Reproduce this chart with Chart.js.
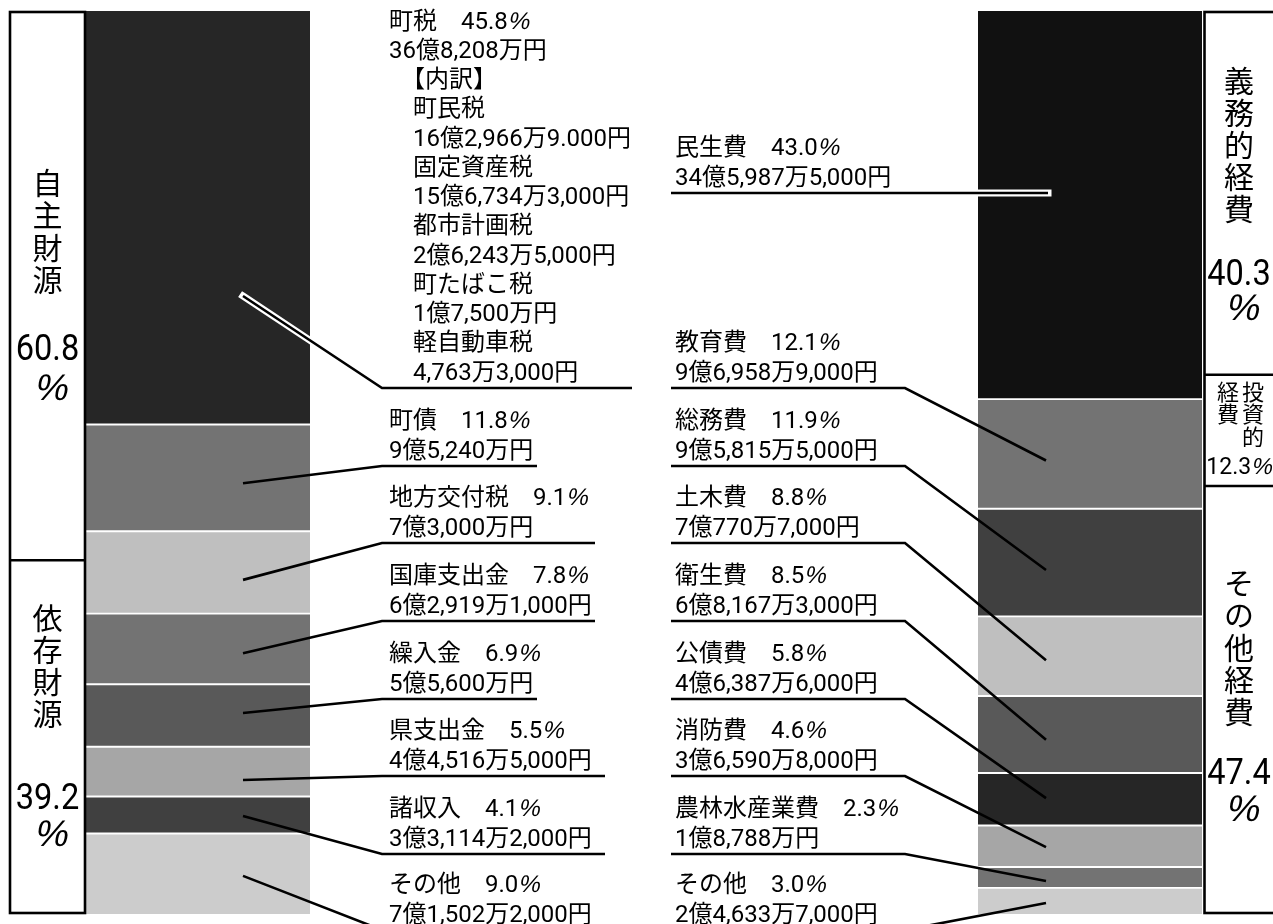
<!DOCTYPE html>
<html><head><meta charset="utf-8">
<script src="https://cdn.jsdelivr.net/npm/chart.js@4/dist/chart.umd.min.js"></script>
<style>html,body{margin:0;padding:0;background:#fff;overflow:hidden}#wrap{width:1273px;height:924px;position:relative}</style>
</head><body><div id="wrap"><canvas id="c"></canvas></div>
<script>
// ---------- data ----------
const barLabels = ['歳入', '歳出'];
const revenueCategories = ['町税','町債','地方交付税','国庫支出金','繰入金','県支出金','諸収入','その他'];
const revenueValues = [45.8, 11.8, 9.1, 7.8, 6.9, 5.5, 4.1, 9.0];
const revenueAmounts = ['36億8,208万円','9億5,240万円','7億3,000万円','6億2,919万1,000円','5億5,600万円','4億4,516万5,000円','3億3,114万2,000円','7億1,502万2,000円'];
const townTaxItems = ['町民税','固定資産税','都市計画税','町たばこ税','軽自動車税'];
const townTaxAmounts = ['16億2,966万9.000円','15億6,734万3,000円','2億6,243万5,000円','1億7,500万円','4,763万3,000円'];
const expenditureCategories = ['民生費','教育費','総務費','土木費','衛生費','公債費','消防費','農林水産業費','その他'];
const expenditureValues = [43.0, 12.1, 11.9, 8.8, 8.5, 5.8, 4.6, 2.3, 3.0];
const expenditureAmounts = ['34億5,987万5,000円','9億6,958万9,000円','9億5,815万5,000円','7億770万7,000円','6億8,167万3,000円','4億6,387万6,000円','3億6,590万8,000円','1億8,788万円','2億4,633万7,000円'];
const revenueGroups = ['自主財源','依存財源'];
const revenueGroupValues = [60.8, 39.2];
const expenditureGroups = ['義務的経費','投資的経費','その他経費'];
const expenditureGroupValues = [40.3, 12.3, 47.4];

// ---------- styles / layout ----------
const revenueColors = ['#262626','#737373','#bfbfbf','#737373','#595959','#a6a6a6','#404040','#cccccc'];
const expenditureColors = ['#111111','#737373','#404040','#bfbfbf','#595959','#262626','#a6a6a6','#737373','#cccccc'];
const revUnderY = [388,466,543,621,699,776,854,930];
const revUnderEnd = [632,537,595,595,537,605,605,595];
const revAnchorFrac = [0.69,0.55,0.59,0.56,0.46,0.67,0.53,0.52];
const expUnderY = [193,388,466,543,621,699,776,854,930];
const expAnchorFrac = [0.5,0.56,0.57,0.55,0.57,0.48,0.52,0.67,0.56];
const LEFT_TEXT_X = 389, RIGHT_TEXT_X = 675;
const FONT = '"Noto Sans CJK JP", sans-serif';
const NUMFONT = 'Roboto, "Noto Sans CJK JP", sans-serif';
const PCTFONT = '"Liberation Sans", Arial, sans-serif';

const datasets = [];
revenueValues.forEach((v, i) => datasets.push({
  label: revenueCategories[i], data: [v, null], backgroundColor: revenueColors[i]
}));
expenditureValues.forEach((v, i) => datasets.push({
  label: expenditureCategories[i], data: [null, v], backgroundColor: expenditureColors[i]
}));
datasets.forEach(d => Object.assign(d, {
  stack: 's', borderColor: '#ffffff', borderWidth: {top: 1.3, bottom: 1.3, left: 0, right: 0},
  borderSkipped: false, barThickness: 224, clip: false
}));

function slanted(ctx, s, x, y, size) {
  ctx.save(); ctx.font = size + 'px ' + PCTFONT;
  ctx.translate(x, y); ctx.transform(1, 0, -0.2, 1, 0, 0);
  ctx.fillText(s, 0, 0); ctx.restore();
}

function richText(ctx, text, x, y, size, align) {
  const parts = text.split('%');
  const psize = Math.round(size * 0.98);
  let segs = [];
  parts.forEach((p, i) => {
    if (p) segs.push([p, false]);
    if (i < parts.length - 1) segs.push(['%', true]);
  });
  let total = 0;
  segs.forEach(s => {
    ctx.font = s[1] ? psize + 'px ' + PCTFONT : size + 'px ' + NUMFONT;
    s.push(ctx.measureText(s[0]).width); total += s[2];
  });
  let cx = align === 'center' ? x - total / 2 : x;
  ctx.textAlign = 'left';
  segs.forEach(s => {
    if (s[1]) slanted(ctx, s[0], cx, y, psize);
    else { ctx.font = size + 'px ' + NUMFONT; ctx.fillText(s[0], cx, y); }
    cx += s[2];
  });
}

function poly(ctx, pts) {
  ctx.beginPath();
  ctx.moveTo(pts[0][0], pts[0][1]);
  for (let k = 1; k < pts.length; k++) ctx.lineTo(pts[k][0], pts[k][1]);
  ctx.stroke();
}

const overlay = {
  id: 'overlay',
  afterDraw(chart) {
    const ctx = chart.ctx, xs = chart.scales.x, ys = chart.scales.y;
    const lx = xs.getPixelForValue(0), rx = xs.getPixelForValue(1);
    const half = 112;
    ctx.save();
    ctx.fillStyle = '#000'; ctx.strokeStyle = '#000';
    ctx.textBaseline = 'alphabetic';
    ctx.lineJoin = 'miter'; ctx.lineCap = 'butt';

    // ----- revenue leaders & labels -----
    let cum = 0;
    revenueValues.forEach((v, i) => {
      const t = ys.getPixelForValue(cum), b = ys.getPixelForValue(cum + v);
      cum += v;
      const ya = t + revAnchorFrac[i] * (b - t), xa = lx + 45;
      const yu = revUnderY[i];
      const pts = [[xa, ya], [382, yu], [revUnderEnd[i], yu]];
      if (i === 0) {
        ctx.save();
        ctx.beginPath(); ctx.rect(lx - half, t, 2 * half, b - t); ctx.clip();
        ctx.strokeStyle = '#fff'; ctx.lineWidth = 7; ctx.lineCap = 'square';
        poly(ctx, pts);
        ctx.restore();
      }
      ctx.lineWidth = 2.6; poly(ctx, pts);
      if (i === 0) {
        const step = 29.25, n = 3 + townTaxItems.length * 2;
        const c = k => yu - 17 - (n - 1 - k) * step + 8.5;
        richText(ctx, revenueCategories[0] + '　' + v.toFixed(1) + '%', LEFT_TEXT_X, c(0), 24);
        richText(ctx, revenueAmounts[0], LEFT_TEXT_X, c(1), 24);
        ctx.font = '24px ' + FONT; ctx.textAlign = 'left';
        ctx.fillText('【内訳】', LEFT_TEXT_X + 12, c(2));
        townTaxItems.forEach((it, j) => {
          richText(ctx, it, LEFT_TEXT_X + 24, c(3 + j * 2), 24);
          richText(ctx, townTaxAmounts[j], LEFT_TEXT_X + 24, c(4 + j * 2), 24);
        });
      } else {
        richText(ctx, revenueCategories[i] + '　' + v.toFixed(1) + '%', LEFT_TEXT_X, yu - 47 + 8.5, 24);
        richText(ctx, revenueAmounts[i], LEFT_TEXT_X, yu - 17 + 8.5, 24);
      }
    });

    // ----- expenditure leaders & labels -----
    cum = 0;
    expenditureValues.forEach((v, i) => {
      const t = ys.getPixelForValue(cum), b = ys.getPixelForValue(cum + v);
      cum += v;
      const yu = expUnderY[i];
      let pts;
      if (i === 0) {
        pts = [[671, yu], [rx - 42, yu]];
        ctx.save();
        ctx.beginPath(); ctx.rect(rx - half, t, 2 * half, b - t); ctx.clip();
        ctx.strokeStyle = '#fff'; ctx.lineWidth = 7; ctx.lineCap = 'square';
        poly(ctx, pts);
        ctx.restore();
      } else {
        const ya = t + expAnchorFrac[i] * (b - t), xa = rx - 44;
        pts = [[671, yu], [905, yu], [xa, ya]];
      }
      ctx.lineWidth = 2.6; poly(ctx, pts);
      richText(ctx, expenditureCategories[i] + '　' + v.toFixed(1) + '%', RIGHT_TEXT_X, yu - 47 + 8.5, 24);
      richText(ctx, expenditureAmounts[i], RIGHT_TEXT_X, yu - 17 + 8.5, 24);
    });

    // ----- group boxes -----
    ctx.lineWidth = 2.6;
    const top = ys.getPixelForValue(0) + 2, bot = ys.getPixelForValue(100) - 2;
    const lb0 = 10, lb1 = lx - half - 1;
    ctx.strokeRect(lb0, top, lb1 - lb0, bot - top);
    const ldiv = ys.getPixelForValue(revenueGroupValues[0]);
    poly(ctx, [[lb0, ldiv], [lb1, ldiv]]);
    const rb0 = rx + half + 2.5, rb1 = 1290;
    ctx.strokeRect(rb0, top, rb1 - rb0, bot - top);
    const rdiv1 = ys.getPixelForValue(expenditureGroupValues[0]);
    const rdiv2 = ys.getPixelForValue(expenditureGroupValues[0] + expenditureGroupValues[1]);
    poly(ctx, [[rb0, rdiv1], [rb1, rdiv1]]);
    poly(ctx, [[rb0, rdiv2], [rb1, rdiv2]]);

    function vertical(text, cx, ys_, numY, pctY, value) {
      ctx.font = '30px ' + FONT; ctx.textAlign = 'center'; ctx.textBaseline = 'middle';
      [...text].forEach((ch, k) => ctx.fillText(ch, cx, ys_[k]));
      ctx.textBaseline = 'alphabetic';
      ctx.save(); ctx.translate(cx, numY + 13); ctx.scale(0.88, 1);
      ctx.font = '37px ' + NUMFONT; ctx.fillText(value.toFixed(1), 0, 0);
      ctx.restore();
      ctx.textAlign = 'center';
      slanted(ctx, '%', cx + 3, pctY + 13, 37);
    }
    const lcx = (lb0 + lb1) / 2, rcx = 1239;
    vertical(revenueGroups[0], lcx, [183, 215, 248, 280], 347, 387, revenueGroupValues[0]);
    vertical(revenueGroups[1], lcx, [618, 650, 682, 714], 796, 833, revenueGroupValues[1]);
    vertical(expenditureGroups[0], rcx, [81, 113, 145, 177, 209], 272, 307, expenditureGroupValues[0]);
    vertical(expenditureGroups[2], rcx, [583, 615, 648, 680, 712], 771, 808, expenditureGroupValues[2]);
    // 投資的経費 (two columns, right to left)
    ctx.font = '22px ' + FONT; ctx.textAlign = 'center'; ctx.textBaseline = 'middle';
    const inv = [...expenditureGroups[1]];
    const colR = 1253, colL = 1228, rows = [392, 414, 437];
    ctx.fillText(inv[0], colR, rows[0]); ctx.fillText(inv[1], colR, rows[1]); ctx.fillText(inv[2], colR, rows[2]);
    ctx.fillText(inv[3], colL, rows[0]); ctx.fillText(inv[4], colL, rows[1]);
    ctx.textBaseline = 'alphabetic';
    richText(ctx, expenditureGroupValues[1].toFixed(1) + '%', rcx, 466 + 8, 23, 'center');
    ctx.restore();
  }
};

new Chart(document.getElementById('c'), {
  type: 'bar',
  data: { labels: barLabels, datasets },
  options: {
    responsive: true, maintainAspectRatio: false, animation: false,
    layout: { padding: { left: 198, right: 183, top: 10, bottom: 9 } },
    plugins: { legend: { display: false }, tooltip: { enabled: false } },
    scales: {
      x: { type: 'category', stacked: true, offset: false, display: false },
      y: { stacked: true, min: 0, max: 100, reverse: true, display: false }
    }
  },
  plugins: [overlay]
});
</script></body></html>
